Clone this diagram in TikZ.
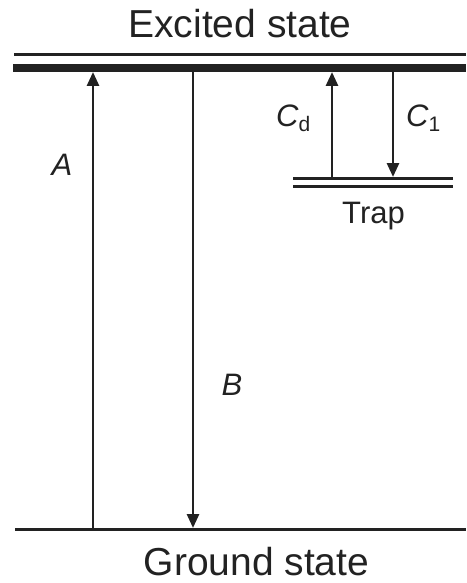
\documentclass[tikz,border=0pt]{standalone}
\usepackage{fontspec}
\setmainfont{Liberation Sans}
\usetikzlibrary{arrows.meta}
\definecolor{ink}{HTML}{222222}
\tikzset{
  level/.style={draw=ink, line width=3pt},
  thicklevel/.style={draw=ink, line width=8pt},
  trans/.style={draw=ink, line width=2.8pt, -{Triangle[length=14pt,width=12pt]}, shorten >=0pt},
  bigtext/.style={text=ink, inner sep=0pt, font=\fontsize{39}{39}\selectfont},
  lbl/.style={text=ink, inner sep=0pt, font=\fontsize{31}{31}\selectfont\itshape},
  traptext/.style={text=ink, inner sep=0pt, font=\fontsize{31}{31}\selectfont},
}
\newcommand{\subsc}[1]{\raisebox{-5pt}{\fontsize{21}{21}\selectfont\upshape #1}}
\begin{document}
\begin{tikzpicture}[x=1pt,y=-1pt]
\useasboundingbox (0,0) rectangle (466,583);
% levels
\coordinate (e1l) at (14,55); \coordinate (e1r) at (466,55);
\coordinate (e2l) at (13,68); \coordinate (e2r) at (466,68);
\coordinate (gl) at (15,529); \coordinate (gr) at (466,529);
\coordinate (t1l) at (293,178); \coordinate (t1r) at (453,178);
\coordinate (t2l) at (293,186); \coordinate (t2r) at (453,186);
\draw[level] (e1l) -- (e1r);
\draw[thicklevel] (e2l) -- (e2r);
\draw[level] (gl) -- (gr);
\draw[level] (t1l) -- (t1r);
\draw[level] (t2l) -- (t2r);
% transition end points
\coordinate (Ab) at (93,529); \coordinate (At) at (93,72);
\coordinate (Bt) at (193,72); \coordinate (Bb) at (193,528);
\coordinate (Cdb) at (332,177); \coordinate (Cdt) at (332,72);
\coordinate (Cit) at (393,72); \coordinate (Cib) at (393,177);
\draw[trans] (Ab) -- (At);
\draw[trans] (Bt) -- (Bb);
\draw[trans] (Cdb) -- (Cdt);
\draw[trans] (Cit) -- (Cib);
% texts
\node[bigtext, anchor=base] (exc) at (240,38) {Excited state};
\node[bigtext, anchor=base] (gnd) at (256.5,575) {Ground state};
\node[traptext, anchor=base] (trap) at (373.5,223) {Trap};
\node[lbl, anchor=base] (la) at (62,175) {A};
\node[lbl, anchor=base] (lb) at (232,395) {B};
\node[lbl, anchor=base west] (lcd) at (276,127) {C\subsc{d}};
\node[lbl, anchor=base west] (lci) at (406,127) {C\subsc{1}};
\end{tikzpicture}
\end{document}
